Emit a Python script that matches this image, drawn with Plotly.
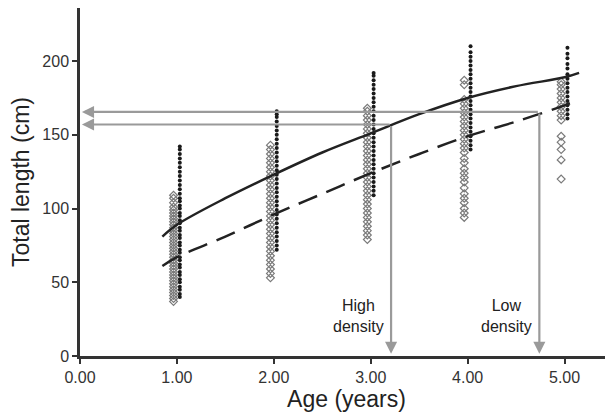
import plotly.graph_objects as go

# ---- data ----
ages = [1, 2, 3, 4, 5]

# open markers (low density sample)
open_len = {
    1: [37, 39, 41, 43, 45, 47, 49, 51, 53, 55, 57, 59, 61, 63, 65, 67, 69, 71, 73, 75, 77,
        79, 81, 83, 85, 87, 89, 91, 93, 95, 97, 99, 101, 104, 107, 109],
    2: [53, 56, 59, 62, 65, 68, 71, 74, 77, 80, 83, 86, 89, 92, 95, 98, 101, 104, 107, 110,
        113, 116, 119, 122, 125, 128, 131, 134, 137, 140, 143],
    3: [79, 82, 85, 88, 91, 94, 97, 100, 103, 106, 109, 112, 115, 118, 121, 124, 127, 130,
        133, 136, 139, 142, 145, 148, 151, 154, 157, 160, 163, 166, 168],
    4: [94, 97, 100, 104, 107, 110, 114, 118, 121, 124, 127, 131, 134, 138, 141, 144, 147,
        150, 153, 156, 159, 162, 165, 168, 171, 174, 184, 187],
    5: [120, 133, 140, 145, 149, 160, 163, 166, 169, 172, 175, 178, 181, 184, 186],
}

# filled markers (high density sample)
filled_len = {
    1: [40, 42, 45, 47, 50, 52, 55, 57, 60, 62, 65, 67, 70, 72, 75, 77, 80, 82, 85, 87, 90,
        92, 95, 97, 100, 102, 105, 107, 110, 113, 116, 119, 122, 125, 128, 131, 134, 137,
        140, 142],
    2: [72, 75, 78, 81, 84, 87, 90, 93, 96, 99, 102, 105, 108, 111, 114, 117, 120, 123, 126,
        129, 132, 135, 138, 141, 144, 147, 150, 153, 156, 159, 162, 164, 166],
    3: [109, 112, 115, 118, 121, 124, 127, 130, 133, 136, 139, 142, 145, 148, 151, 154, 157,
        160, 163, 166, 169, 172, 175, 178, 181, 184, 187, 190, 192],
    4: [140, 143, 146, 149, 152, 155, 158, 161, 164, 167, 170, 173, 176, 179, 182, 185, 188,
        191, 194, 197, 200, 203, 206, 210],
    5: [161, 164, 167, 170, 173, 176, 179, 182, 185, 188, 191, 195, 198, 202, 205, 209],
}

# fitted growth curves
curve_age = [0.85, 1.0, 1.5, 2.0, 2.5, 3.0, 3.5, 4.0, 4.5, 5.0, 5.15]
curve_high = [81, 89, 107, 123, 138, 151, 164, 175, 183, 189, 192]   # solid
curve_low = [61, 67, 81, 96, 110, 124, 137, 149, 159, 170, 174]      # dashed

threshold_len = [157, 165.5]
threshold_age = [3.21, 4.74]
threshold_label = ["High<br>density", "Low<br>density"]

x_ticks = [0, 1, 2, 3, 4, 5]
y_ticks = [0, 50, 100, 150, 200]

FONT = "Liberation Sans, Arial, sans-serif"
GRAY = "#9a9a9a"

fig = go.Figure()

ox, oy = [], []
for a in ages:
    ox += [a - 0.035] * len(open_len[a])
    oy += open_len[a]
fig.add_trace(go.Scatter(
    x=ox, y=oy, mode="markers",
    marker=dict(symbol="diamond-open", size=6, color="#7a7a7a", line=dict(width=1.2)),
    showlegend=False, hoverinfo="skip"))

fx, fy = [], []
for a in ages:
    fx += [a + 0.03] * len(filled_len[a])
    fy += filled_len[a]
fig.add_trace(go.Scatter(
    x=fx, y=fy, mode="markers",
    marker=dict(symbol="circle", size=4, color="#1a1a1a"),
    showlegend=False, hoverinfo="skip"))

fig.add_trace(go.Scatter(
    x=curve_age, y=curve_high, mode="lines",
    line=dict(color="#222222", width=2.5, shape="spline"),
    showlegend=False, hoverinfo="skip"))
fig.add_trace(go.Scatter(
    x=curve_age, y=curve_low, mode="lines",
    line=dict(color="#222222", width=2.5, dash="20px,10px", shape="spline"),
    showlegend=False, hoverinfo="skip"))

annotations = []
for L, A, lab in zip(threshold_len, threshold_age, threshold_label):
    # horizontal arrow pointing to the y axis
    annotations.append(dict(
        x=0.02, y=L, ax=A, ay=L, xref="x", yref="y", axref="x", ayref="y",
        text="", showarrow=True, arrowhead=2, arrowsize=1.1, arrowwidth=2.2,
        arrowcolor=GRAY))
    # vertical arrow pointing to the x axis
    annotations.append(dict(
        x=A, y=1.5, ax=A, ay=L, xref="x", yref="y", axref="x", ayref="y",
        text="", showarrow=True, arrowhead=2, arrowsize=1.1, arrowwidth=2.2,
        arrowcolor=GRAY))
    annotations.append(dict(
        x=A, y=27, xref="x", yref="y", text=lab, showarrow=False,
        xanchor="right", xshift=-5, align="center",
        font=dict(family=FONT, size=16, color="#222222")))

# the page body adds an 8px offset, so the figure is 8px smaller and the
# left/top margins are reduced by the same amount
fig.update_layout(
    width=605, height=412,
    margin=dict(l=72, r=0, t=0, b=64),
    paper_bgcolor="white", plot_bgcolor="white",
    font=dict(family=FONT, color="#222222"),
    annotations=annotations,
    xaxis=dict(
        range=[0, 5.5], tickvals=x_ticks, ticktext=[f"{v:.2f}" for v in x_ticks],
        automargin=False,
        showgrid=False, zeroline=False, showline=True, linecolor="#333333",
        linewidth=2.5, ticks="outside", ticklen=5, tickwidth=2, tickcolor="#333333",
        tickfont=dict(family=FONT, size=16, color="#333333"),
        title=dict(text="Age (years)", font=dict(family=FONT, size=23, color="#222222"),
                   standoff=4)),
    yaxis=dict(
        range=[0, 236], tickvals=y_ticks, automargin=False,
        showgrid=False, zeroline=False, showline=True, linecolor="#333333",
        linewidth=2.5, ticks="outside", ticklen=5, tickwidth=2, tickcolor="#333333",
        tickfont=dict(family=FONT, size=16, color="#333333"),
        title=dict(text="Total length (cm)", font=dict(family=FONT, size=23, color="#222222"),
                   standoff=9)),
)

fig.write_html("out.html")
